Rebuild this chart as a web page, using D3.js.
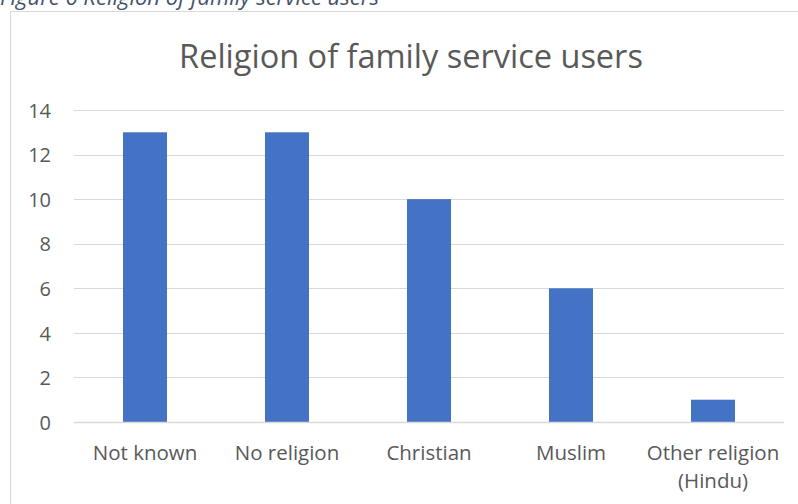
<!DOCTYPE html>
<html>
<head>
<meta charset="utf-8">
<script src="https://cdn.jsdelivr.net/npm/d3@7"></script>
<style>
  html, body { margin: 0; padding: 0; background: #fff; }
  svg { display: block; }
</style>
</head>
<body>
<svg id="chart" width="798" height="504"></svg>
<script>
// Religion of family service users
const categories = ["Not known", "No religion", "Christian", "Muslim", "Other religion\n(Hindu)"];
const counts = [13, 13, 10, 6, 1];
const yTicks = [0, 2, 4, 6, 8, 10, 12, 14];

const svg = d3.select("#chart");
const font = "'Open Sans', 'Noto Sans', sans-serif";
const textColor = "#595959";

// figure caption above the chart frame (partly clipped at the top edge)
svg.append("text")
  .attr("x", 0)
  .attr("y", 5)
  .attr("font-family", font)
  .attr("font-style", "italic")
  .attr("font-size", 22)
  .attr("fill", "#44546A")
  .text("Figure 6 Religion of family service users");

// chart frame
svg.append("rect")
  .attr("x", 10.5).attr("y", 11.5)
  .attr("width", 800).attr("height", 500)
  .attr("fill", "#fff")
  .attr("stroke", "#d9d9d9")
  .attr("stroke-width", 1);

// title
svg.append("text")
  .attr("x", 411)
  .attr("y", 68)
  .attr("text-anchor", "middle")
  .attr("font-family", font)
  .attr("font-size", 32.5)
  .attr("fill", textColor)
  .text("Religion of family service users");

const x = d3.scaleBand()
  .domain(categories)
  .range([74, 784])
  .paddingInner(0.69)
  .paddingOuter(0.345);

const y = d3.scaleLinear()
  .domain([0, 14])
  .range([422, 110]);

// horizontal gridlines
svg.append("g")
  .selectAll("line")
  .data(yTicks.filter(t => t > 0))
  .join("line")
  .attr("x1", 74).attr("x2", 784)
  .attr("y1", d => Math.round(y(d)) + 0.5)
  .attr("y2", d => Math.round(y(d)) + 0.5)
  .attr("stroke", "#d9d9d9")
  .attr("stroke-width", 1);

// y axis labels
const yAxis = d3.axisLeft(y).tickValues(yTicks).tickSize(0).tickPadding(0);
const gy = svg.append("g")
  .attr("transform", "translate(51,0)")
  .call(yAxis);
gy.select(".domain").remove();
gy.selectAll("text")
  .attr("font-family", font)
  .attr("font-size", 20)
  .attr("fill", textColor)
  .attr("dy", "0.36em");

// bars
svg.append("g")
  .selectAll("rect")
  .data(categories.map((c, i) => ({ c, v: counts[i] })))
  .join("rect")
  .attr("x", d => x(d.c))
  .attr("y", d => y(d.v))
  .attr("width", x.bandwidth())
  .attr("height", d => y(0) - y(d.v))
  .attr("fill", "#4472C4");

// baseline
svg.append("line")
  .attr("x1", 74).attr("x2", 784)
  .attr("y1", Math.round(y(0)) + 0.5)
  .attr("y2", Math.round(y(0)) + 0.5)
  .attr("stroke", "#d9d9d9")
  .attr("stroke-width", 1.5);

// x axis labels
const xAxis = d3.axisBottom(x).tickSize(0).tickPadding(0);
const gx = svg.append("g")
  .attr("transform", `translate(0,${y(0)})`)
  .call(xAxis);
gx.select(".domain").remove();
gx.selectAll(".tick text")
  .attr("font-family", font)
  .attr("font-size", 20.5)
  .attr("fill", textColor)
  .attr("y", 38)
  .attr("dy", 0)
  .each(function(d) {
    const t = d3.select(this);
    const lines = d.split("\n");
    t.text(null);
    lines.forEach((ln, i) => {
      t.append("tspan")
        .attr("x", 0)
        .attr("dy", i === 0 ? 0 : 28)
        .text(ln);
    });
  });
</script>
</body>
</html>
